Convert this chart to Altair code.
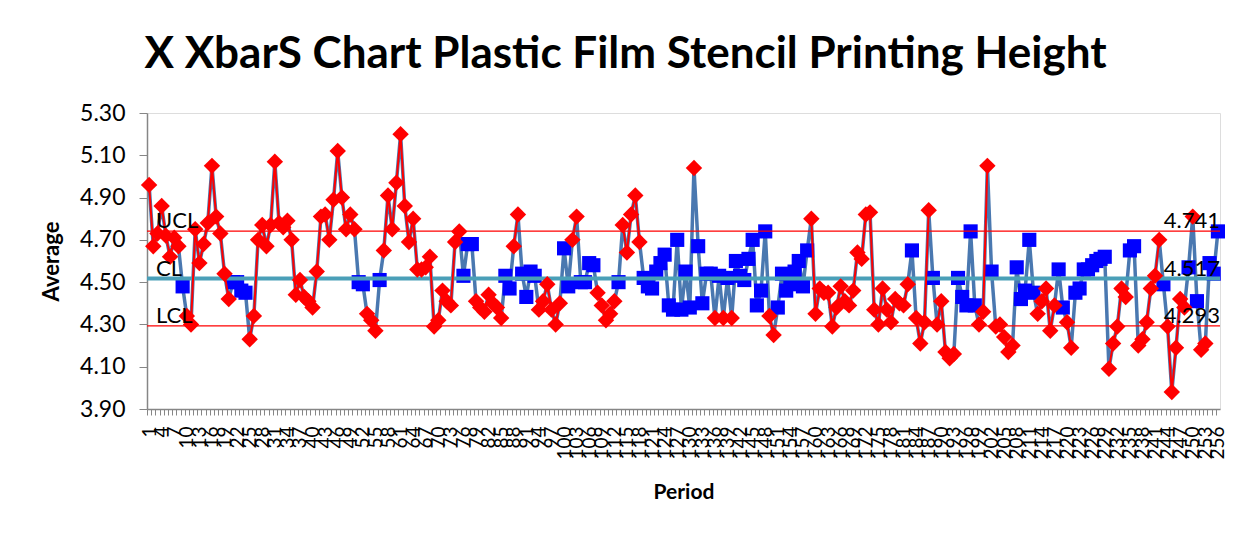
import altair as alt
import pandas as pd

# ---------------- data ----------------
averages = [
    4.96, 4.67, 4.73, 4.86, 4.72, 4.62, 4.71, 4.67, 4.48, 4.34, 4.30, 4.75, 4.59, 4.68, 4.78, 5.05,
    4.81, 4.73, 4.54, 4.42, 4.50, 4.50, 4.46, 4.45, 4.23, 4.34, 4.70, 4.77, 4.67, 4.77, 5.07, 4.78,
    4.76, 4.79, 4.70, 4.44, 4.51, 4.43, 4.41, 4.38, 4.55, 4.81, 4.82, 4.70, 4.89, 5.12, 4.90, 4.75,
    4.82, 4.75, 4.50, 4.49, 4.35, 4.32, 4.27, 4.51, 4.65, 4.91, 4.75, 4.97, 5.20, 4.86, 4.69, 4.80,
    4.56, 4.56, 4.57, 4.62, 4.29, 4.32, 4.46, 4.41, 4.39, 4.69, 4.74, 4.53, 4.68, 4.68, 4.41, 4.38,
    4.36, 4.44, 4.40, 4.38, 4.33, 4.53, 4.47, 4.67, 4.82, 4.54, 4.43, 4.55, 4.53, 4.37, 4.41, 4.49,
    4.37, 4.30, 4.40, 4.66, 4.48, 4.70, 4.81, 4.50, 4.50, 4.59, 4.58, 4.45, 4.39, 4.32, 4.35, 4.41,
    4.50, 4.77, 4.64, 4.82, 4.91, 4.69, 4.52, 4.48, 4.47, 4.55, 4.59, 4.63, 4.39, 4.37, 4.70, 4.37,
    4.55, 4.38, 5.04, 4.67, 4.40, 4.54, 4.54, 4.33, 4.53, 4.33, 4.52, 4.33, 4.60, 4.53, 4.51, 4.61,
    4.70, 4.39, 4.46, 4.74, 4.34, 4.25, 4.38, 4.54, 4.46, 4.49, 4.55, 4.60, 4.48, 4.65, 4.80, 4.35,
    4.47, 4.45, 4.45, 4.29, 4.38, 4.48, 4.41, 4.39, 4.46, 4.64, 4.61, 4.82, 4.83, 4.37, 4.30, 4.47,
    4.37, 4.31, 4.42, 4.40, 4.39, 4.49, 4.65, 4.33, 4.21, 4.31, 4.84, 4.52, 4.30, 4.41, 4.17, 4.14,
    4.16, 4.52, 4.43, 4.39, 4.74, 4.39, 4.30, 4.36, 5.05, 4.55, 4.29, 4.30, 4.24, 4.17, 4.20, 4.57,
    4.42, 4.46, 4.70, 4.45, 4.35, 4.41, 4.47, 4.27, 4.39, 4.56, 4.38, 4.31, 4.19, 4.45, 4.47, 4.56,
    4.56, 4.58, 4.60, 4.61, 4.62, 4.09, 4.21, 4.29, 4.47, 4.43, 4.65, 4.67, 4.20, 4.23, 4.31, 4.47,
    4.53, 4.70, 4.49, 4.29, 3.98, 4.19, 4.42, 4.38, 4.57, 4.81, 4.41, 4.18, 4.21, 4.59, 4.54, 4.74,
]
# 1 = flagged point (red diamond), 0 = normal point (blue square)
flagged = [
    1, 1, 1, 1, 1, 1, 1, 1, 0, 1, 1, 1, 1, 1, 1, 1,
    1, 1, 1, 1, 0, 0, 0, 0, 1, 1, 1, 1, 1, 1, 1, 1,
    1, 1, 1, 1, 1, 1, 1, 1, 1, 1, 1, 1, 1, 1, 1, 1,
    1, 1, 0, 0, 1, 1, 1, 0, 1, 1, 1, 1, 1, 1, 1, 1,
    1, 1, 1, 1, 1, 1, 1, 1, 1, 1, 1, 0, 0, 0, 1, 1,
    1, 1, 1, 1, 1, 0, 0, 1, 1, 0, 0, 0, 0, 1, 1, 1,
    1, 1, 1, 0, 0, 1, 1, 0, 0, 0, 0, 1, 1, 1, 1, 1,
    0, 1, 1, 1, 1, 1, 0, 0, 0, 0, 0, 0, 0, 0, 0, 0,
    0, 0, 1, 0, 0, 0, 0, 1, 0, 1, 0, 1, 0, 0, 0, 0,
    0, 0, 0, 0, 1, 1, 0, 0, 0, 0, 0, 0, 0, 0, 1, 1,
    1, 1, 1, 1, 1, 1, 1, 1, 1, 1, 1, 1, 1, 1, 1, 1,
    1, 1, 1, 1, 1, 1, 0, 1, 1, 1, 1, 0, 1, 1, 1, 1,
    1, 0, 0, 0, 0, 0, 1, 1, 1, 0, 1, 1, 1, 1, 1, 0,
    0, 0, 0, 0, 1, 1, 1, 1, 1, 0, 0, 1, 1, 0, 0, 0,
    0, 0, 0, 0, 0, 1, 1, 1, 1, 1, 0, 0, 1, 1, 1, 1,
    1, 1, 0, 1, 1, 1, 1, 1, 0, 1, 0, 1, 1, 0, 0, 0,
]
periods = list(range(1, len(averages) + 1))

limit_names = ["UCL", "CL", "LCL"]
limit_values = [4.741, 4.517, 4.293]
limit_labels = ["4.741", "4.517", "4.293"]

y_tick_values = [3.90, 4.10, 4.30, 4.50, 4.70, 4.90, 5.10, 5.30]

title_text = "X XbarS Chart Plastic Film Stencil Printing Height"

# ---------------- tables ----------------
df = pd.DataFrame({"Period": periods, "Average": averages, "Flag": flagged})
runs, r, prev = [], 0, 0
for f in flagged:
    if f and not prev:
        r += 1
    runs.append(r if f else 0)
    prev = f
df["Run"] = runs
red_df = df[df["Flag"] == 1]
blue_df = df[df["Flag"] == 0]

limits = pd.DataFrame({"name": limit_names, "value": limit_values, "label": limit_labels})

# ---------------- layout ----------------
W, H = 1073, 296
n = len(periods)
half_band = W / n / 2.0
FONT = "Lato"
GRAY = "#868686"

x_enc = alt.X(
    "Period:Q",
    scale=alt.Scale(domain=[0.5, n + 0.5], nice=False, zero=False),
    axis=alt.Axis(
        values=periods,
        labelExpr="(datum.value - 1) % 3 == 0 ? datum.label : ''",
        labelAngle=-90,
        labelFontSize=19,
        labelFont=FONT,
        labelColor="black",
        labelPadding=11,
        labelOverlap=False,
        labelFlush=False,
        tickOffset=-half_band,
        labelOffset=half_band,
        tickSize=6,
        tickColor=GRAY,
        domainColor=GRAY,
        domainWidth=1.5,
        grid=False,
        title="Period",
        titleFont=FONT,
        titleFontSize=21,
        titleFontWeight="bold",
        titleColor="black",
        titlePadding=22,
    ),
)
y_scale = alt.Scale(domain=[3.9, 5.3], nice=False, zero=False)
y_enc = alt.Y(
    "Average:Q",
    scale=y_scale,
    axis=alt.Axis(
        values=y_tick_values,
        format=".2f",
        labelFontSize=23,
        labelFont=FONT,
        labelColor="black",
        labelPadding=14,
        tickSize=8,
        tickColor=GRAY,
        domainColor=GRAY,
        domainWidth=1.5,
        grid=False,
        title="Average",
        titleFont=FONT,
        titleFontSize=22,
        titleFontWeight="bold",
        titleColor="black",
        titlePadding=16,
    ),
)

base_line = alt.Chart(df).mark_line(color="#4A78B0", strokeWidth=3.5).encode(x=x_enc, y=y_enc)
blue_pts = alt.Chart(blue_df).mark_square(color="#0000FF", size=200, opacity=1).encode(x=x_enc, y=y_enc)

cl_rule = alt.Chart(limits).transform_filter("datum.name == 'CL'").mark_rule(
    color="#4A9FB8", strokeWidth=4
).encode(y=alt.Y("value:Q", scale=y_scale))
ul_rules = alt.Chart(limits).transform_filter("datum.name != 'CL'").mark_rule(
    color="#FF0000", strokeWidth=1.3
).encode(y=alt.Y("value:Q", scale=y_scale))

red_line = alt.Chart(red_df).mark_line(color="#FF0000", strokeWidth=2).encode(
    x=x_enc, y=y_enc, detail="Run:N"
)
red_pts = alt.Chart(red_df).mark_point(
    shape="diamond", filled=True, color="#FF0000", size=270, opacity=1
).encode(x=x_enc, y=y_enc)

left_text = alt.Chart(limits).mark_text(
    align="left", baseline="bottom", font=FONT, fontSize=22, color="black", dx=9, dy=2
).encode(x=alt.value(0), y=alt.Y("value:Q", scale=y_scale), text="name:N")
right_text = alt.Chart(limits).mark_text(
    align="right", baseline="bottom", font=FONT, fontSize=22, color="black", dy=2
).encode(x=alt.value(W), y=alt.Y("value:Q", scale=y_scale), text="label:N")

chart = alt.layer(
    base_line, blue_pts, cl_rule, ul_rules, red_line, red_pts, left_text, right_text
).properties(
    width=W,
    height=H,
    autosize=alt.AutoSizeParams(type="none"),
    padding={"left": 139, "top": 105, "right": 14, "bottom": 112},
    title=alt.TitleParams(
        text=title_text,
        font=FONT,
        fontSize=44,
        fontWeight="bold",
        color="black",
        anchor="middle",
        frame="group",
        dx=-58,
        offset=25,
    ),
).configure_view(stroke=None).configure(background="white")

chart.save("out.html", embed_options={"renderer": "svg", "actions": False})
